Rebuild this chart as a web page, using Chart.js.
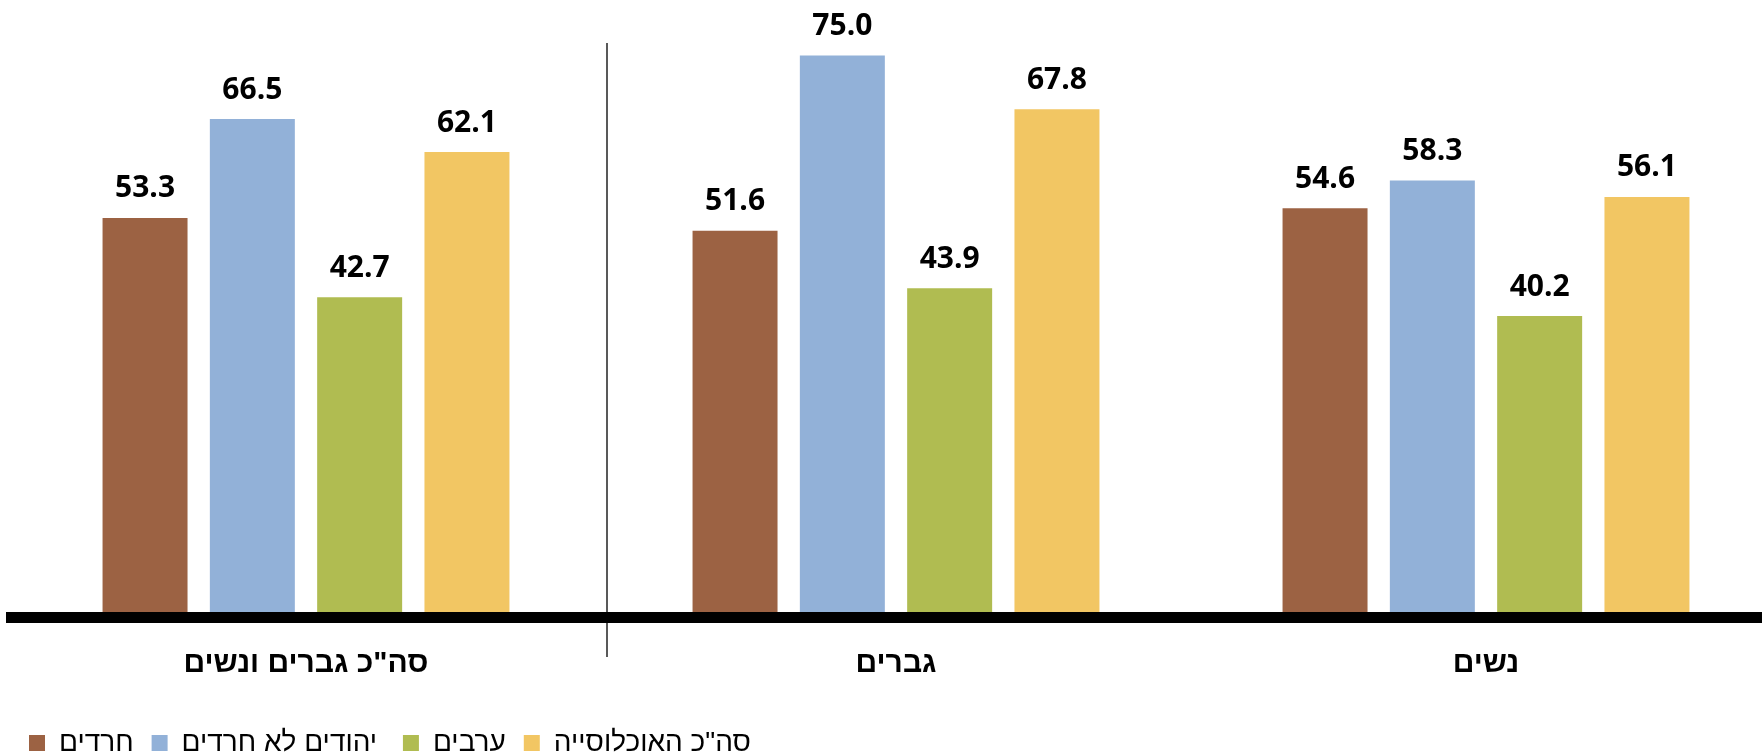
<!DOCTYPE html>
<html>
<head>
<meta charset="utf-8">
<script src="https://cdn.jsdelivr.net/npm/chart.js@4/dist/chart.umd.min.js"></script>
<style>
html,body{margin:0;padding:0;background:#fff;overflow:hidden;width:1762px;height:753px;}
#wrap{width:1800px;height:753px;}
</style>
</head>
<body>
<div id="wrap"><canvas id="c" width="1800" height="753"></canvas></div>
<script>
const categories = ['סה"כ גברים ונשים', 'גברים', 'נשים'];
const seriesNames = ['חרדים', 'יהודים לא חרדים ', 'ערבים', 'סה"כ האוכלוסייה'];
const haredim = [53.3, 51.6, 54.6];
const nonHaredi = [66.5, 75.0, 58.3];
const arabs = [42.7, 43.9, 40.2];
const total = [62.1, 67.8, 56.1];
const colors = ['#9C6243', '#92B1D8', '#B0BC51', '#F2C663'];

const valueLabels = {
  id: 'valueLabels',
  afterDatasetsDraw(chart) {
    const ctx = chart.ctx;
    ctx.save();
    ctx.font = 'bold 30px "Open Sans", "DejaVu Sans", sans-serif';
    ctx.fillStyle = '#000';
    ctx.textAlign = 'center';
    ctx.textBaseline = 'bottom';
    chart.data.datasets.forEach((ds, i) => {
      chart.getDatasetMeta(i).data.forEach((bar, j) => {
        ctx.fillText(ds.data[j].toFixed(1), bar.x, bar.y - 14);
      });
    });
    ctx.restore();
  }
};

const separator = {
  id: 'separator',
  afterDatasetsDraw(chart) {
    const xs = chart.scales.x;
    const ca = chart.chartArea;
    const x = (xs.getPixelForValue(0) + xs.getPixelForValue(1)) / 2 + 6;
    const ctx = chart.ctx;
    ctx.save();
    ctx.strokeStyle = '#222';
    ctx.lineWidth = 1.5;
    ctx.beginPath();
    ctx.moveTo(x, ca.top + 25);
    ctx.lineTo(x, ca.bottom + 40);
    ctx.stroke();
    ctx.restore();
  }
};

const series = [haredim, nonHaredi, arabs, total];
new Chart(document.getElementById('c'), {
  type: 'bar',
  data: {
    labels: categories,
    datasets: series.map((d, i) => ({
      label: seriesNames[i],
      data: d,
      backgroundColor: colors[i],
      borderWidth: 0,
      categoryPercentage: 0.7275,
      barPercentage: 0.792
    }))
  },
  options: {
    responsive: false,
    devicePixelRatio: 1,
    animation: false,
    layout: { padding: { left: 11, right: 19, top: 18, bottom: -14 } },
    scales: {
      x: {
        grid: { display: false, drawTicks: false },
        border: { display: true, color: '#000', width: 11, z: 1 },
        ticks: {
          padding: 29,
          color: '#000',
          font: { family: '"Liberation Sans Narrow", "Liberation Sans", "DejaVu Sans", sans-serif', size: 30, weight: 'bold' }
        }
      },
      y: { display: false, min: 0, max: 80 }
    },
    plugins: {
      tooltip: { enabled: false },
      legend: {
        position: 'bottom',
        align: 'start',
        labels: {
          color: '#000',
          boxWidth: 16,
          boxHeight: 16,
          padding: 18,
          font: { family: '"Liberation Sans Narrow", "Liberation Sans", "DejaVu Sans", sans-serif', size: 28 }
        }
      }
    }
  },
  plugins: [valueLabels, separator]
});
</script>
</body>
</html>
